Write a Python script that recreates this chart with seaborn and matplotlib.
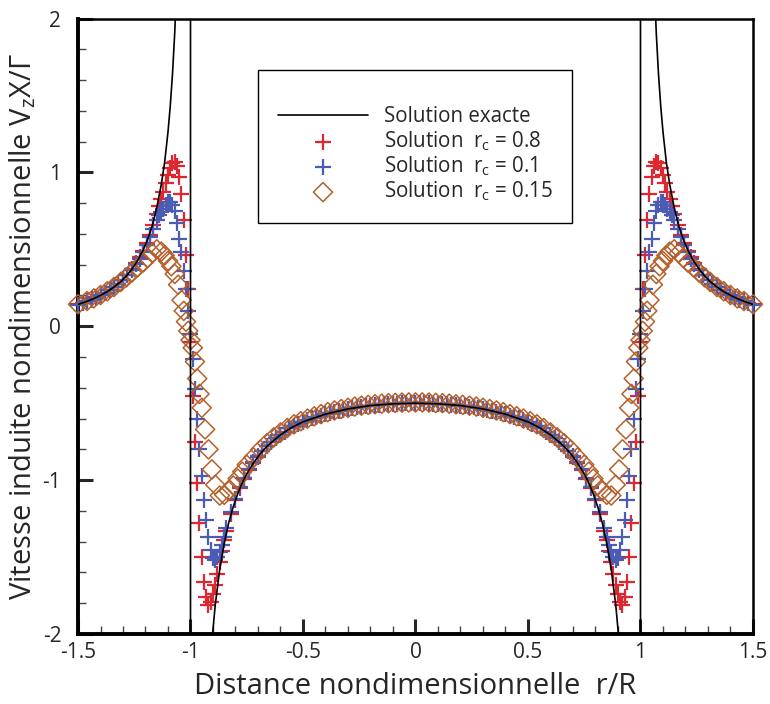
import matplotlib
matplotlib.use("Agg")
import matplotlib.pyplot as plt
import seaborn as sns
from matplotlib.ticker import MultipleLocator, FuncFormatter

# Sample positions r/R of the rc = 0.8 and rc = 0.1 solutions
r_fine = [
    -1.50, -1.48, -1.46, -1.44, -1.42, -1.40, -1.38, -1.36, -1.34, -1.32, -1.30, -1.28,
    -1.26, -1.24, -1.225, -1.21, -1.195, -1.18, -1.165,
    -1.15, -1.14, -1.13, -1.12, -1.11, -1.10, -1.09, -1.08, -1.07, -1.06, -1.05,
    -1.04, -1.03, -1.02, -1.01, -1.00, -0.99, -0.98, -0.97, -0.96, -0.95,
    -0.94, -0.93, -0.92, -0.91, -0.90, -0.89, -0.88, -0.87, -0.86, -0.85,
    -0.84, -0.82, -0.80, -0.78, -0.76, -0.74,
    -0.72, -0.70, -0.68, -0.66, -0.64, -0.62, -0.60, -0.58, -0.56, -0.54, -0.52, -0.50,
    -0.48, -0.46, -0.44, -0.42, -0.40, -0.38, -0.36, -0.34, -0.32, -0.30, -0.28, -0.26,
    -0.24, -0.22, -0.20, -0.18, -0.16, -0.14, -0.12, -0.10, -0.08, -0.06, -0.04, -0.02,
    0.00,
    0.02, 0.04, 0.06, 0.08, 0.10, 0.12, 0.14, 0.16, 0.18, 0.20, 0.22, 0.24,
    0.26, 0.28, 0.30, 0.32, 0.34, 0.36, 0.38, 0.40, 0.42, 0.44, 0.46, 0.48,
    0.50, 0.52, 0.54, 0.56, 0.58, 0.60, 0.62, 0.64, 0.66, 0.68, 0.70, 0.72,
    0.74, 0.76, 0.78, 0.80, 0.82, 0.84,
    0.85, 0.86, 0.87, 0.88, 0.89, 0.90, 0.91, 0.92, 0.93, 0.94,
    0.95, 0.96, 0.97, 0.98, 0.99, 1.00, 1.01, 1.02, 1.03, 1.04,
    1.05, 1.06, 1.07, 1.08, 1.09, 1.10, 1.11, 1.12, 1.13, 1.14, 1.15,
    1.165, 1.18, 1.195, 1.21, 1.225, 1.24, 1.26,
    1.28, 1.30, 1.32, 1.34, 1.36, 1.38, 1.40, 1.42, 1.44, 1.46, 1.48, 1.50,
]

# Solution rc = 0.8 (red crosses)
vz_red = [
    0.142, 0.152, 0.162, 0.174, 0.187, 0.201, 0.217, 0.234, 0.254, 0.277, 0.303, 0.334,
    0.370, 0.413, 0.450, 0.490, 0.540, 0.595, 0.660,
    0.730, 0.780, 0.830, 0.875, 0.930, 0.980, 1.030, 1.060, 1.065, 1.040, 0.970,
    0.860, 0.690, 0.460, 0.240, -0.100, -0.450, -0.750, -1.020, -1.280, -1.500,
    -1.660, -1.760, -1.810, -1.790, -1.740, -1.680, -1.610, -1.530, -1.460, -1.390,
    -1.330, -1.220, -1.128, -1.052, -0.990, -0.935,
    -0.890, -0.849, -0.812, -0.780, -0.752, -0.728, -0.705, -0.684, -0.664, -0.648, -0.634, -0.621,
    -0.610, -0.599, -0.589, -0.580, -0.571, -0.563, -0.555, -0.548, -0.542, -0.537, -0.531, -0.526,
    -0.522, -0.518, -0.515, -0.512, -0.510, -0.507, -0.505, -0.504, -0.502, -0.501, -0.501, -0.500,
    -0.500,
    -0.500, -0.501, -0.501, -0.502, -0.504, -0.505, -0.507, -0.510, -0.512, -0.515, -0.518, -0.522,
    -0.526, -0.531, -0.537, -0.542, -0.548, -0.555, -0.563, -0.571, -0.580, -0.589, -0.599, -0.610,
    -0.621, -0.634, -0.648, -0.664, -0.684, -0.705, -0.728, -0.752, -0.780, -0.812, -0.849, -0.890,
    -0.935, -0.990, -1.052, -1.128, -1.220, -1.330,
    -1.390, -1.460, -1.530, -1.610, -1.680, -1.740, -1.790, -1.810, -1.760, -1.660,
    -1.500, -1.280, -1.020, -0.750, -0.450, -0.100, 0.240, 0.460, 0.690, 0.860,
    0.970, 1.040, 1.065, 1.060, 1.030, 0.980, 0.930, 0.875, 0.830, 0.780, 0.730,
    0.660, 0.595, 0.540, 0.490, 0.450, 0.413, 0.370,
    0.334, 0.303, 0.277, 0.254, 0.234, 0.217, 0.201, 0.187, 0.174, 0.162, 0.152, 0.142,
]

# Solution rc = 0.1 (blue crosses)
vz_blue = [
    0.141, 0.151, 0.161, 0.173, 0.186, 0.200, 0.216, 0.233, 0.253, 0.276, 0.301, 0.331,
    0.366, 0.407, 0.440, 0.480, 0.525, 0.580, 0.635,
    0.690, 0.720, 0.745, 0.765, 0.790, 0.810, 0.810, 0.790, 0.750, 0.670, 0.570,
    0.480, 0.360, 0.240, 0.100, -0.050, -0.210, -0.410, -0.600, -0.800, -0.970,
    -1.130, -1.260, -1.370, -1.455, -1.505, -1.520, -1.500, -1.470, -1.420, -1.370,
    -1.310, -1.210, -1.120, -1.045, -0.983, -0.930,
    -0.884, -0.843, -0.808, -0.780, -0.752, -0.728, -0.705, -0.684, -0.664, -0.648, -0.634, -0.621,
    -0.610, -0.599, -0.589, -0.580, -0.571, -0.563, -0.555, -0.548, -0.542, -0.537, -0.531, -0.526,
    -0.522, -0.518, -0.515, -0.512, -0.510, -0.507, -0.505, -0.504, -0.502, -0.501, -0.501, -0.500,
    -0.500,
    -0.500, -0.501, -0.501, -0.502, -0.504, -0.505, -0.507, -0.510, -0.512, -0.515, -0.518, -0.522,
    -0.526, -0.531, -0.537, -0.542, -0.548, -0.555, -0.563, -0.571, -0.580, -0.589, -0.599, -0.610,
    -0.621, -0.634, -0.648, -0.664, -0.684, -0.705, -0.728, -0.752, -0.780, -0.808, -0.843, -0.884,
    -0.930, -0.983, -1.045, -1.120, -1.210, -1.310,
    -1.370, -1.420, -1.470, -1.500, -1.520, -1.505, -1.455, -1.370, -1.260, -1.130,
    -0.970, -0.800, -0.600, -0.410, -0.210, -0.050, 0.100, 0.240, 0.360, 0.480,
    0.570, 0.670, 0.750, 0.790, 0.810, 0.810, 0.790, 0.765, 0.745, 0.720, 0.690,
    0.635, 0.580, 0.525, 0.480, 0.440, 0.407, 0.366,
    0.331, 0.301, 0.276, 0.253, 0.233, 0.216, 0.200, 0.186, 0.173, 0.161, 0.151, 0.141,
]

# Sample positions r/R of the rc = 0.15 solution
r_coarse = [
    -1.50, -1.46, -1.43, -1.40, -1.37, -1.34, -1.31, -1.285, -1.26, -1.235,
    -1.21, -1.19, -1.17, -1.15, -1.13, -1.115, -1.10, -1.085, -1.07, -1.055,
    -1.04, -1.03, -1.02, -1.01, -1.00, -0.99, -0.98, -0.97, -0.96, -0.95,
    -0.935, -0.92, -0.905, -0.89, -0.87, -0.85, -0.83, -0.81, -0.79, -0.77,
    -0.75, -0.72, -0.69, -0.66, -0.63, -0.60, -0.57, -0.54, -0.51, -0.48,
    -0.45, -0.42, -0.39, -0.36, -0.33, -0.30, -0.27, -0.24, -0.21, -0.18,
    -0.15, -0.12, -0.09, -0.06, -0.03,
    0.00,
    0.03, 0.06, 0.09, 0.12, 0.15, 0.18, 0.21, 0.24, 0.27, 0.30,
    0.33, 0.36, 0.39, 0.42, 0.45, 0.48, 0.51, 0.54, 0.57, 0.60,
    0.63, 0.66, 0.69, 0.72, 0.75, 0.77, 0.79, 0.81, 0.83, 0.85,
    0.87, 0.89, 0.905, 0.92, 0.935, 0.95, 0.96, 0.97, 0.98, 0.99,
    1.00, 1.01, 1.02, 1.03, 1.04, 1.055, 1.07, 1.085, 1.10, 1.115,
    1.13, 1.15, 1.17, 1.19, 1.21, 1.235, 1.26, 1.285, 1.31, 1.34,
    1.37, 1.40, 1.43, 1.46, 1.50,
]

# Solution rc = 0.15 (brown diamonds)
vz_brown = [
    0.143, 0.164, 0.181, 0.203, 0.227, 0.255, 0.288, 0.318, 0.350, 0.383,
    0.415, 0.445, 0.475, 0.500, 0.485, 0.460, 0.425, 0.390, 0.340, 0.270,
    0.170, 0.100, 0.030, -0.030, -0.090, -0.140, -0.230, -0.340, -0.440, -0.530,
    -0.670, -0.800, -0.930, -1.030, -1.100, -1.095, -1.070, -1.035, -0.990, -0.945,
    -0.900, -0.852, -0.802, -0.760, -0.722, -0.690, -0.661, -0.637, -0.617, -0.600,
    -0.585, -0.571, -0.558, -0.547, -0.538, -0.530, -0.522, -0.516, -0.511, -0.507,
    -0.503, -0.500, -0.498, -0.496, -0.495,
    -0.495,
    -0.495, -0.496, -0.498, -0.500, -0.503, -0.507, -0.511, -0.516, -0.522, -0.530,
    -0.538, -0.547, -0.558, -0.571, -0.585, -0.600, -0.617, -0.637, -0.661, -0.690,
    -0.722, -0.760, -0.802, -0.852, -0.900, -0.945, -0.990, -1.035, -1.070, -1.095,
    -1.100, -1.030, -0.930, -0.800, -0.670, -0.530, -0.440, -0.340, -0.230, -0.140,
    -0.090, -0.030, 0.030, 0.100, 0.170, 0.270, 0.340, 0.390, 0.425, 0.460,
    0.485, 0.500, 0.475, 0.445, 0.415, 0.383, 0.350, 0.318, 0.288, 0.255,
    0.227, 0.203, 0.181, 0.164, 0.143,
]

# Exact solution (black line), goes to +/- infinity at r/R = +/-1
r_exact = [
    -1.50, -1.46, -1.43, -1.40, -1.37, -1.34, -1.31, -1.285, -1.26, -1.235,
    -1.21, -1.19, -1.17, -1.15, -1.13, -1.115, -1.10, -1.09, -1.08, -1.07,
    -1.06, -1.00, -1.00,
    -0.94, -0.92, -0.905, -0.89, -0.87, -0.85, -0.83, -0.81, -0.79, -0.77,
    -0.75, -0.72, -0.69, -0.66, -0.63, -0.60, -0.55, -0.50, -0.40, -0.30,
    -0.20, -0.10, 0.00, 0.10, 0.20, 0.30, 0.40, 0.50, 0.55, 0.60,
    0.63, 0.66, 0.69, 0.72, 0.75, 0.77, 0.79, 0.81, 0.83, 0.85,
    0.87, 0.89, 0.905, 0.92, 0.94,
    1.00, 1.00, 1.06, 1.07, 1.08, 1.09, 1.10, 1.115, 1.13, 1.15,
    1.17, 1.19, 1.21, 1.235, 1.26, 1.285, 1.31, 1.34, 1.37, 1.40,
    1.43, 1.46, 1.50,
]
vz_exact = [
    0.142, 0.162, 0.180, 0.201, 0.225, 0.255, 0.290, 0.327, 0.372, 0.427,
    0.496, 0.566, 0.653, 0.771, 0.920, 1.064, 1.263, 1.430, 1.640, 1.910,
    2.280, 40.0, -40.0,
    -3.060, -2.370, -2.050, -1.810, -1.580, -1.409, -1.276, -1.173, -1.088, -1.017,
    -0.959, -0.888, -0.828, -0.780, -0.742, -0.705, -0.658, -0.621, -0.571, -0.537,
    -0.515, -0.504, -0.500, -0.504, -0.515, -0.537, -0.571, -0.621, -0.658, -0.705,
    -0.742, -0.780, -0.828, -0.888, -0.959, -1.017, -1.088, -1.173, -1.276, -1.409,
    -1.580, -1.810, -2.050, -2.370, -3.060,
    -40.0, 40.0, 2.280, 1.910, 1.640, 1.430, 1.263, 1.064, 0.920, 0.771,
    0.653, 0.566, 0.496, 0.427, 0.372, 0.327, 0.290, 0.255, 0.225, 0.201,
    0.180, 0.162, 0.142,
]

LABELS = [
    'Solution exacte',
    'Solution  r$_{\\mathregular{c}}$ = 0.8',
    'Solution  r$_{\\mathregular{c}}$ = 0.1',
    'Solution  r$_{\\mathregular{c}}$ = 0.15',
]
RED = '#e02630'
BLUE = '#4a5cb4'
BROWN = '#b5602a'

sns.set_style("white")
plt.rcParams['font.family'] = ['Open Sans', 'DejaVu Sans']
plt.rcParams['axes.unicode_minus'] = False

fig = plt.figure(figsize=(7.7, 7.04), dpi=100)
ax = fig.add_axes([0.1013, 0.0994, 0.8766, 0.8743])

# numerical solutions
sns.scatterplot(x=r_fine, y=vz_red, marker='+', s=120, color=RED, linewidth=1.6,
                label=LABELS[1], ax=ax, clip_on=False, zorder=2)
sns.scatterplot(x=r_fine, y=vz_blue, marker='+', s=120, color=BLUE, linewidth=1.6,
                label=LABELS[2], ax=ax, clip_on=False, zorder=3)
sns.scatterplot(x=r_coarse, y=vz_brown, marker='D', s=95, facecolor='none',
                edgecolor=BROWN, linewidth=1.1, label=LABELS[3], ax=ax,
                clip_on=False, zorder=4)

# exact solution
sns.lineplot(x=r_exact, y=vz_exact, sort=False, estimator=None, color='black',
             linewidth=1.2, label=LABELS[0], ax=ax, zorder=5)

ax.set_xlim(-1.5, 1.5)
ax.set_ylim(-2, 2)
ax.xaxis.set_major_locator(MultipleLocator(0.5))
ax.xaxis.set_minor_locator(MultipleLocator(0.1))
ax.yaxis.set_major_locator(MultipleLocator(1))
ax.yaxis.set_minor_locator(MultipleLocator(0.2))
fmt = FuncFormatter(lambda v, p: '%g' % v)
ax.xaxis.set_major_formatter(fmt)
ax.yaxis.set_major_formatter(fmt)

ax.tick_params(which='both', direction='in', top=False, right=False,
               bottom=True, left=True)
ax.tick_params(which='major', length=11, width=2.2, labelsize=15)
ax.tick_params(which='minor', length=6, width=1.0, color='#444444')
ax.tick_params(axis='y', which='major', pad=12)
ax.tick_params(axis='x', which='major', pad=6)

for side in ['left', 'bottom']:
    ax.spines[side].set_linewidth(2.8)
for side in ['top', 'right']:
    ax.spines[side].set_linewidth(1.8)
for s in ax.spines.values():
    s.set_color('black')

ax.set_xlabel('Distance nondimensionnelle  r/R', fontsize=21, labelpad=6)
ax.set_ylabel('Vitesse induite nondimensionnelle V$_{\\mathregular{z}}$X/\u0393',
              fontsize=21, labelpad=3)

handles, labels = ax.get_legend_handles_labels()
lookup = dict(zip(labels, handles))
leg = ax.legend([lookup[l] for l in LABELS], LABELS, loc='upper left',
                bbox_to_anchor=(0.267, 0.916), borderaxespad=0, fontsize=14.8,
                title=' ', title_fontsize=10, frameon=True, fancybox=False,
                edgecolor='black', framealpha=1, handlelength=4.4,
                handletextpad=0.75, labelspacing=0.08, borderpad=0.95)
leg.get_frame().set_linewidth(1.0)

fig.savefig('out.png', dpi=100)
